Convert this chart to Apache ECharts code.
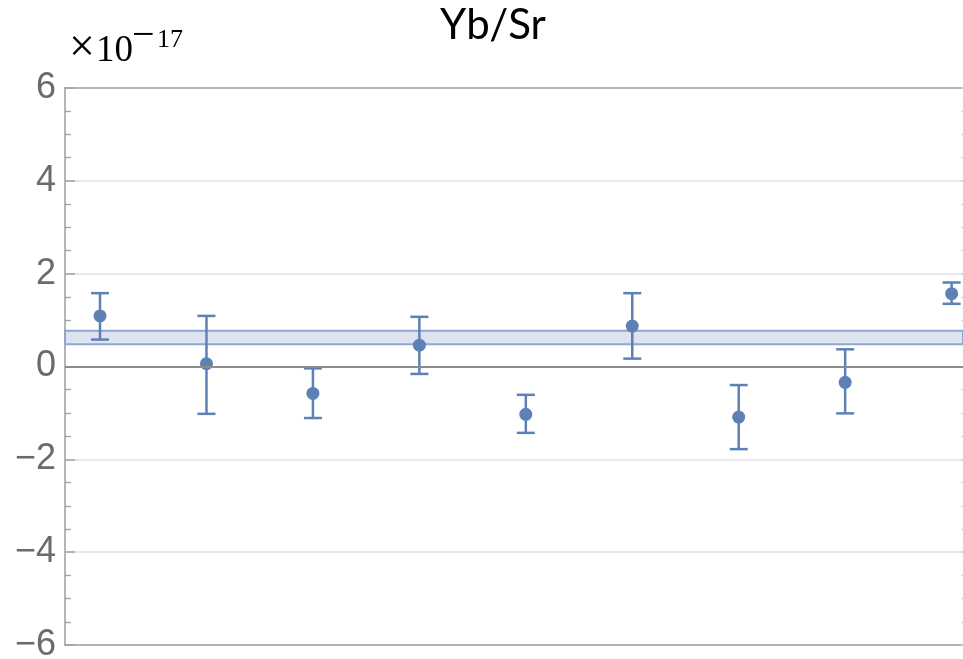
<!DOCTYPE html>
<html>
<head>
<meta charset="utf-8">
<script src="https://cdn.jsdelivr.net/npm/echarts@6/dist/echarts.min.js"></script>
<style>
  html, body { margin: 0; padding: 0; background: #fff; }
  #chart { width: 963px; height: 659px; }
</style>
</head>
<body>
<div id="chart"></div>
<script>
// Yb/Sr frequency ratio residuals (units of 1e-17), one per measurement run
const runs   = [1, 2, 3, 4, 5, 6, 7, 8, 9];
const values = [1.09, 0.06, -0.58, 0.46, -1.03, 0.87, -1.09, -0.34, 1.57];
const upper  = [1.58, 1.09, -0.04, 1.07, -0.61, 1.58, -0.40, 0.37, 1.81];
const lower  = [0.58, -1.02, -1.11, -0.16, -1.43, 0.17, -1.78, -1.01, 1.35];
// weighted-mean band (low, high)
const meanBand = [0.48, 0.77];
const yTicks = [-6, -4, -2, 0, 2, 4, 6];

const BLUE = '#5e81b5';
const FRAME = '#a3a3a3';

const chart = echarts.init(document.getElementById('chart'));

const pts = runs.map((r, i) => [r, values[i]]);
const bars = runs.map((r, i) => [r, lower[i], upper[i]]);

function fmtTick(v) {
  return v < 0 ? '\u2212' + Math.abs(v) : String(v);
}

const yAxisBase = {
  type: 'value',
  min: yTicks[0],
  max: yTicks[yTicks.length - 1],
  interval: 2,
  axisLine: { show: true, lineStyle: { color: FRAME, width: 1.6 } },
  axisTick: { show: true, inside: true, length: 10, lineStyle: { color: FRAME, width: 1.5 } },
  minorTick: { show: true, splitNumber: 4, length: 6, lineStyle: { color: FRAME, width: 1.3 } },
  splitLine: { show: false }
};

const xAxisBase = {
  type: 'value',
  min: 0.671,
  max: 9.107,
  axisLine: { show: true, onZero: false, lineStyle: { color: FRAME, width: 1.6 } },
  axisTick: { show: false },
  axisLabel: { show: false },
  splitLine: { show: false }
};

// scale factor written as a math-style exponent
function mathText(str, x, y, size) {
  return {
    type: 'text', silent: true,
    style: {
      text: str, x: x, y: y, align: 'left', verticalAlign: 'middle',
      fontFamily: 'Liberation Serif', fontSize: size, fill: '#000'
    }
  };
}

chart.setOption({
  animation: false,
  backgroundColor: '#fff',
  title: {
    text: 'Yb/Sr',
    left: 488,
    textAlign: 'center',
    top: -1,
    textStyle: { fontFamily: 'Lato', fontWeight: 'normal', fontSize: 42, color: '#000' }
  },
  graphic: [
    mathText('\u00d7', 69, 48.5, 46),
    mathText('10', 96, 51, 37),
    mathText('\u2212', 132, 36.5, 40),
    mathText('17', 157, 40, 26)
  ],
  grid: {
    left: 65, top: 88, right: 0, height: 557,
    outerBoundsMode: 'none',
    containLabel: false,
    show: false
  },
  xAxis: [
    Object.assign({}, xAxisBase, { position: 'bottom' }),
    Object.assign({}, xAxisBase, { position: 'top' })
  ],
  yAxis: [
    Object.assign({}, yAxisBase, {
      position: 'left',
      axisLabel: {
        show: true, formatter: fmtTick, margin: 9,
        fontFamily: 'Liberation Sans', fontSize: 36, color: '#6b6b6b'
      },
      splitLine: { show: true, lineStyle: { color: '#e2e2e2', width: 1.5 } }
    }),
    Object.assign({}, yAxisBase, {
      position: 'right',
      axisLine: { show: false },
      axisTick: { show: true, inside: true, length: 2, lineStyle: { color: '#cfcfcf', width: 1.5 } },
      minorTick: { show: true, splitNumber: 4, length: 2, lineStyle: { color: '#dadada', width: 1.3 } },
      axisLabel: { show: false }
    })
  ],
  series: [
    {
      // mean band with its edge lines, plus the zero reference line
      type: 'line',
      data: [],
      silent: true,
      markArea: {
        silent: true,
        itemStyle: { color: '#dde4ef', borderColor: '#8ea7cf', borderWidth: 2 },
        data: [[{ yAxis: meanBand[0] }, { yAxis: meanBand[1] }]]
      },
      markLine: {
        silent: true,
        symbol: 'none',
        label: { show: false },
        lineStyle: { color: '#8c8c8c', width: 1.8, type: 'solid' },
        data: [{ yAxis: 0 }]
      }
    },
    {
      type: 'custom',
      data: bars,
      encode: { x: 0, y: [1, 2] },
      z: 3,
      renderItem: function (params, api) {
        const x = api.value(0);
        const lo = api.coord([x, api.value(1)]);
        const hi = api.coord([x, api.value(2)]);
        const half = 9;
        const style = { stroke: BLUE, lineWidth: 2.5 };
        return {
          type: 'group',
          children: [
            { type: 'line', shape: { x1: lo[0], y1: lo[1], x2: hi[0], y2: hi[1] }, style: style },
            { type: 'line', shape: { x1: hi[0] - half, y1: hi[1], x2: hi[0] + half, y2: hi[1] }, style: style },
            { type: 'line', shape: { x1: lo[0] - half, y1: lo[1], x2: lo[0] + half, y2: lo[1] }, style: style }
          ]
        };
      }
    },
    {
      type: 'scatter',
      data: pts,
      z: 4,
      symbol: 'circle',
      symbolSize: 13,
      itemStyle: { color: BLUE, opacity: 1 }
    }
  ]
});
</script>
</body>
</html>
